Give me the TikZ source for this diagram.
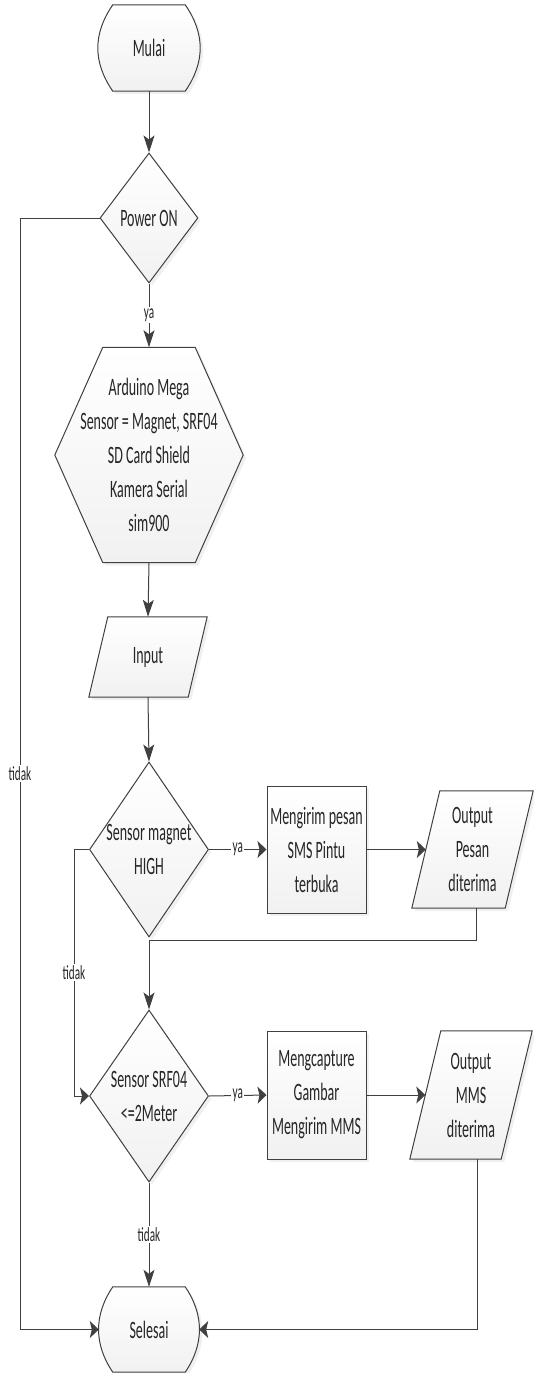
\documentclass[tikz,border=0pt]{standalone}
\usepackage{fontspec}
\newfontfamily\dfont[FakeStretch=0.56]{Carlito}
\usetikzlibrary{shapes.geometric,arrows.meta,calc,shadows}
\pgfdeclarelayer{bg}
\pgfsetlayers{bg,main}
\definecolor{linec}{HTML}{404040}
\definecolor{fillb}{HTML}{F1F1F1}
\tikzset{
  shp/.style={draw=linec, line width=1pt, top color=white, bottom color=fillb,
    drop shadow={opacity=0.12, shadow xshift=3pt, shadow yshift=-3pt}},
  txt/.style={font=\dfont\fontsize{25pt}{34pt}\selectfont, text=black!85, align=center, inner sep=0pt},
  frame/.style={rectangle, draw=none, txt},
  decision/.style={diamond, shp, inner sep=0pt},
  procbox/.style={rectangle, shp, txt, minimum width=99pt, minimum height=127pt},
  lab/.style={fill=white, inner sep=1.5pt, text=black!85, font=\dfont\fontsize{20pt}{22pt}\selectfont},
  conn/.style={draw=linec, line width=1pt},
  varr/.style={conn, -{Stealth[length=17pt,width=11pt,inset=4pt]}},
  harr/.style={conn, -{Stealth[length=9pt,width=17pt,inset=2pt]}},
}
\begin{document}
\begin{tikzpicture}[x=1pt,y=-1pt]
\useasboundingbox (0,0) rectangle (534,1373);

% nodes
\node[frame, minimum width=102pt, minimum height=86pt] (mulai) at (149,48) {Mulai};
\node[decision, minimum width=98pt, minimum height=130pt,
      label={[txt]center:Power ON}] (power) at (149,218) {};
\node[frame, minimum width=188pt, minimum height=215pt] (hex) at (149,455)
  {Arduino Mega\\Sensor = Magnet, SRF04\\SD Card Shield\\Kamera Serial\\sim900};
\node[frame, minimum width=118pt, minimum height=80pt] (input) at (148,657) {Input};
\node[decision, minimum width=119pt, minimum height=175pt,
      label={[txt]center:{Sensor magnet\\HIGH}}] (d3) at (149,849.5) {};
\node[procbox] (box1) at (316.5,849.5) {Mengirim pesan\\SMS Pintu\\terbuka};
\node[frame, minimum width=121pt, minimum height=117pt] (out1) at (472.5,849.5) {Output\\Pesan\\diterima};
\node[decision, minimum width=119pt, minimum height=172pt,
      label={[txt]center:{Sensor SRF04\\{<}=2Meter}}] (d4) at (149,1096) {};
\node[procbox, minimum height=128pt] (box2) at (316.5,1095) {Mengcapture\\Gambar\\Mengirim MMS};
\node[frame, minimum width=122pt, minimum height=128pt] (out2) at (471,1095) {Output\\MMS\\diterima};
\node[frame, minimum width=100pt, minimum height=85pt] (selesai) at (149,1329.5) {Selesai};

% custom outlines
\begin{pgfonlayer}{bg}
\path[shp] ($(mulai.north west)+(15,0)$) -- ($(mulai.north east)+(-15,0)$)
  .. controls +(20,29) and +(20,-29) .. ($(mulai.south east)+(-15,0)$)
  -- ($(mulai.south west)+(15,0)$)
  .. controls +(-20,-29) and +(-20,29) .. ($(mulai.north west)+(15,0)$) -- cycle;
\path[shp] ($(selesai.north west)+(14,0)$) -- ($(selesai.north east)+(-14,0)$)
  .. controls +(19,28) and +(19,-28) .. ($(selesai.south east)+(-14,0)$)
  -- ($(selesai.south west)+(14,0)$)
  .. controls +(-19,-28) and +(-19,28) .. ($(selesai.north west)+(14,0)$) -- cycle;
\path[shp] (hex.west) -- ($(hex.north west)+(48,0)$) -- ($(hex.north east)+(-48,0)$)
  -- (hex.east) -- ($(hex.south east)+(-48,0)$) -- ($(hex.south west)+(48,0)$) -- cycle;
\path[shp] (input.south west) -- ($(input.north west)+(19,0)$) -- (input.north east)
  -- ($(input.south east)+(-19,0)$) -- cycle;
\path[shp] (out1.south west) -- ($(out1.north west)+(28,0)$) -- (out1.north east)
  -- ($(out1.south east)+(-28,0)$) -- cycle;
\path[shp] (out2.south west) -- ($(out2.north west)+(31,0)$) -- (out2.north east)
  -- ($(out2.south east)+(-31,0)$) -- cycle;
\end{pgfonlayer}

% helper coordinates
\coordinate (lx) at (20,0);
\coordinate (lx2) at (74,0);
\coordinate (o1l) at ($(out1.west)+(14,0)$);
\coordinate (o2l) at ($(out2.west)+(15.5,0)$);
\coordinate (o1b) at ($(out1.south west)!0.537!(out1.south east)$);
\coordinate (o2b) at ($(out2.south west)!0.55!(out2.south east)$);
\coordinate (j1) at (149,940);

% connectors
\draw[varr] (mulai.south) -- (power.north);
\draw[varr] (power.south) -- node[lab]{ya} (hex.north);
\draw[varr] (hex.south) -- (input.north);
\draw[varr] (input.south) -- (d3.north);
\draw[harr] (d3.east) -- node[lab]{ya} (box1.west);
\draw[harr] (box1.east) -- (o1l);
\draw[varr] (o1b) |- (j1) -- (d4.north);
\draw[harr] (d3.west) -- (d3.west -| lx2) -- node[lab]{tidak} (d4.west -| lx2) -- (d4.west);
\draw[harr] (d4.east) -- node[lab]{ya} (box2.west);
\draw[harr] (box2.east) -- (o2l);
\draw[harr] (o2b) |- (selesai.east);
\draw[varr] (d4.south) -- node[lab]{tidak} (d4.south |- selesai.north);
\draw[harr] (power.west) -- (power.west -| lx) -- node[lab]{tidak} (selesai.west -| lx) -- (selesai.west);
\end{tikzpicture}
\end{document}
